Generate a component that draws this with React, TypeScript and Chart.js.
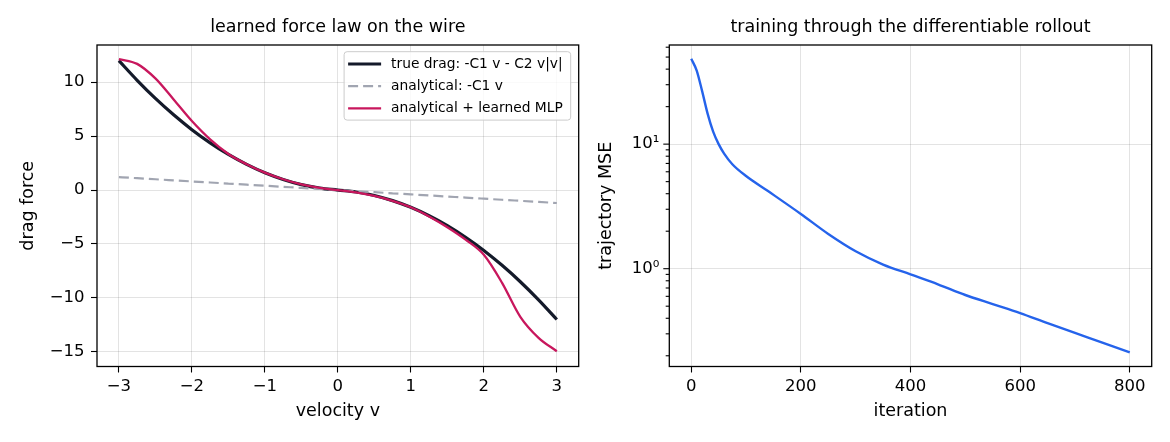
import React, { useEffect, useRef } from 'react';
import { Chart, registerables } from 'chart.js';

Chart.register(...registerables);

// ---------- data: left panel ----------
const VELOCITY = [-3, -2.75, -2.5, -2.25, -2, -1.75, -1.5, -1.25, -1, -0.75, -0.5, -0.25, 0, 0.25, 0.5, 0.75, 1, 1.25, 1.5, 1.75, 2, 2.25, 2.5, 2.75, 3];
const TRUE_DRAG = [12.0, 10.18, 8.5, 6.98, 5.6, 4.38, 3.3, 2.38, 1.6, 0.98, 0.5, 0.18, 0, -0.18, -0.5, -0.98, -1.6, -2.38, -3.3, -4.38, -5.6, -6.98, -8.5, -10.18, -12.0];
const ANALYTICAL = [1.2, 1.1, 1.0, 0.9, 0.8, 0.7, 0.6, 0.5, 0.4, 0.3, 0.2, 0.1, 0, -0.1, -0.2, -0.3, -0.4, -0.5, -0.6, -0.7, -0.8, -0.9, -1.0, -1.1, -1.2];
const LEARNED_MLP = [12.15, 11.7, 10.35, 8.4, 6.4, 4.7, 3.35, 2.4, 1.62, 1.0, 0.52, 0.2, 0.0, -0.22, -0.55, -1.0, -1.6, -2.45, -3.45, -4.6, -6.0, -8.6, -11.75, -13.7, -14.95];
const LEFT_X_TICKS = [-3, -2, -1, 0, 1, 2, 3];
const LEFT_Y_TICKS = [-15, -10, -5, 0, 5, 10];

// ---------- data: right panel ----------
const ITERATIONS = [0, 10, 20, 30, 40, 50, 60, 75, 100, 140, 200, 250, 300, 350, 400, 450, 500, 550, 600, 650, 700, 750, 800];
const MSE = [48.5, 39, 26.5, 17.5, 12.6, 10.0, 8.4, 6.9, 5.55, 4.2, 2.75, 1.9, 1.38, 1.08, 0.9, 0.75, 0.615, 0.52, 0.44, 0.365, 0.305, 0.255, 0.213];
const RIGHT_X_TICKS = [0, 200, 400, 600, 800];
const LOG_MAJOR = [1, 10];
const LOG_MINOR = [0.2, 0.3, 0.4, 0.5, 0.6, 0.7, 0.8, 0.9, 2, 3, 4, 5, 6, 7, 8, 9, 20, 30, 40, 50, 60];
const SUPERSCRIPT: Record<string, string> = { '-': '\u207B', '0': '\u2070', '1': '\u00B9', '2': '\u00B2', '3': '\u00B3' };

const FONT = 'DejaVu Sans';
const TICK_SIZE = 16.5;
const LABEL_SIZE = 17.5;
const TITLE_SIZE = 17.5;
const LEGEND_SIZE = 13.8;
const GRID = 'rgba(0,0,0,0.11)';

const fmt = (v: number) => (v < 0 ? '\u2212' + Math.abs(v) : String(v));
const fmtPow = (v: number) => '10' + String(Math.round(Math.log10(v))).split('').map((c) => SUPERSCRIPT[c] || c).join('');

const framePlugin = {
  id: 'frame',
  afterDraw(chart: any) {
    const { ctx, chartArea: a } = chart;
    ctx.save();
    ctx.strokeStyle = '#000';
    ctx.lineWidth = 1.3;
    ctx.strokeRect(a.left, a.top, a.right - a.left, a.bottom - a.top);
    ctx.restore();
  },
};

const innerLegendPlugin = {
  id: 'innerLegend',
  afterDraw(chart: any) {
    const { ctx, chartArea: a } = chart;
    const items = chart.data.datasets.map((ds: any) => ({
      label: ds.label,
      color: ds.borderColor,
      width: ds.borderWidth,
      dash: ds.borderDash || [],
    }));
    ctx.save();
    ctx.font = `${LEGEND_SIZE}px "${FONT}"`;
    const textW = Math.max(...items.map((i: any) => ctx.measureText(i.label).width));
    const handle = 33, padL = 4, gap = 10, padR = 8, rowH = 22.2, padT = 12.3, padB = 11.7;
    const w = padL + handle + gap + textW + padR;
    const h = padT + rowH * (items.length - 1) + padB;
    const x0 = a.right - 8 - w;
    const y0 = a.top + 6.7;
    ctx.beginPath();
    ctx.roundRect(x0, y0, w, h, 3);
    ctx.fillStyle = 'rgba(255,255,255,0.8)';
    ctx.fill();
    ctx.strokeStyle = '#cccccc';
    ctx.lineWidth = 1;
    ctx.stroke();
    items.forEach((it: any, i: number) => {
      const cy = y0 + padT + i * rowH;
      ctx.beginPath();
      ctx.setLineDash(it.dash);
      ctx.strokeStyle = it.color;
      ctx.lineWidth = it.width;
      ctx.moveTo(x0 + padL, cy);
      ctx.lineTo(x0 + padL + handle, cy);
      ctx.stroke();
      ctx.setLineDash([]);
      ctx.fillStyle = '#000';
      ctx.textBaseline = 'middle';
      ctx.textAlign = 'left';
      ctx.fillText(it.label, x0 + padL + handle + gap, cy + 0.5);
    });
    ctx.restore();
  },
};

const logTickPlugin = {
  id: 'logTicks',
  afterDraw(chart: any) {
    const { ctx, chartArea: a } = chart;
    const y = chart.scales.y;
    ctx.save();
    ctx.strokeStyle = '#000';
    ctx.lineWidth = 1.1;
    const draw = (v: number, len: number) => {
      const p = y.getPixelForValue(v);
      ctx.beginPath();
      ctx.moveTo(a.left - len, p);
      ctx.lineTo(a.left, p);
      ctx.stroke();
    };
    LOG_MINOR.forEach((v) => draw(v, 3.6));
    LOG_MAJOR.forEach((v) => draw(v, 6));
    ctx.restore();
  },
};

const tickFont = { family: FONT, size: TICK_SIZE };
const labelFont = { family: FONT, size: LABEL_SIZE };

function titleOpts(text: string) {
  return {
    display: true,
    text,
    fullSize: false,
    color: '#000',
    font: { family: FONT, size: TITLE_SIZE, weight: 'normal' as const },
    padding: { top: 16.5, bottom: 7.5 },
  };
}

function xAxis(min: number, max: number, ticks: number[], label: string) {
  return {
    type: 'linear' as const,
    min,
    max,
    border: { display: false },
    grid: { color: GRID, lineWidth: 1, tickColor: '#000', tickLength: 6, tickWidth: 1.1 },
    ticks: { font: tickFont, color: '#000', padding: 4.3, maxRotation: 0, autoSkip: false, callback: (v: any) => fmt(Number(v)) },
    title: { display: true, text: label, color: '#000', font: labelFont, padding: { top: 4, bottom: 19.8 } },
    afterBuildTicks: (s: any) => { s.ticks = ticks.map((value) => ({ value })); },
    afterFit: (s: any) => { s.height = 75.5; },
  };
}

function leftConfig(): any {
  return {
    type: 'line',
    data: {
      datasets: [
        { label: 'true drag: -C1 v - C2 v|v|', data: VELOCITY.map((x, i) => ({ x, y: TRUE_DRAG[i] })), borderColor: '#141a2a', borderWidth: 3.2, order: 2 },
        { label: 'analytical: -C1 v', data: VELOCITY.map((x, i) => ({ x, y: ANALYTICAL[i] })), borderColor: '#a1a5b1', borderWidth: 2.2, borderDash: [10, 5], order: 1 },
        { label: 'analytical + learned MLP', data: VELOCITY.map((x, i) => ({ x, y: LEARNED_MLP[i] })), borderColor: '#c8175d', borderWidth: 2.3, order: 0 },
      ],
    },
    options: {
      responsive: false,
      animation: false,
      devicePixelRatio: 1,
      layout: { padding: { left: 0, right: 6.3, top: 0, bottom: 0 } },
      elements: { point: { radius: 0 }, line: { cubicInterpolationMode: 'monotone', fill: false } },
      plugins: { legend: { display: false }, tooltip: { enabled: false }, title: titleOpts('learned force law on the wire') },
      scales: {
        x: xAxis(-3.3, 3.3, LEFT_X_TICKS, 'velocity v'),
        y: {
          type: 'linear',
          min: -16.36,
          max: 13.45,
          border: { display: false },
          grid: { color: GRID, lineWidth: 1, tickColor: '#000', tickLength: 6, tickWidth: 1.1 },
          ticks: { font: tickFont, color: '#000', padding: 6.5, autoSkip: false, callback: (v: any) => fmt(Number(v)) },
          title: { display: true, text: 'drag force', color: '#000', font: labelFont, padding: { top: 17.8, bottom: 4 } },
          afterBuildTicks: (s: any) => { s.ticks = LEFT_Y_TICKS.map((value) => ({ value })); },
          afterFit: (s: any) => { s.width = 97; },
        },
      },
    },
    plugins: [framePlugin, innerLegendPlugin],
  };
}

function rightConfig(): any {
  return {
    type: 'line',
    data: {
      datasets: [
        { label: 'trajectory MSE', data: ITERATIONS.map((x, i) => ({ x, y: MSE[i] })), borderColor: '#2563eb', borderWidth: 2.4 },
      ],
    },
    options: {
      responsive: false,
      animation: false,
      devicePixelRatio: 1,
      layout: { padding: { left: 0, right: 18.3, top: 0, bottom: 0 } },
      elements: { point: { radius: 0 }, line: { cubicInterpolationMode: 'monotone', fill: false } },
      plugins: { legend: { display: false }, tooltip: { enabled: false }, title: titleOpts('training through the differentiable rollout') },
      scales: {
        x: xAxis(-40, 840, RIGHT_X_TICKS, 'iteration'),
        y: {
          type: 'logarithmic',
          min: 0.164,
          max: 62.5,
          border: { display: false },
          grid: { color: GRID, lineWidth: 1, drawTicks: false },
          ticks: { font: tickFont, color: '#000', padding: 10, autoSkip: false, callback: (v: any) => fmtPow(Number(v)) },
          title: { display: true, text: 'trajectory MSE', color: '#000', font: labelFont, padding: { top: 11.2, bottom: 4 } },
          afterBuildTicks: (s: any) => { s.ticks = LOG_MAJOR.map((value) => ({ value, major: true })); },
          afterFit: (s: any) => { s.width = 84.3; },
        },
      },
    },
    plugins: [framePlugin, logTickPlugin],
  };
}

export default function App() {
  const leftRef = useRef<HTMLCanvasElement>(null);
  const rightRef = useRef<HTMLCanvasElement>(null);
  useEffect(() => {
    const c1 = new Chart(leftRef.current as HTMLCanvasElement, leftConfig());
    const c2 = new Chart(rightRef.current as HTMLCanvasElement, rightConfig());
    return () => {
      c1.destroy();
      c2.destroy();
    };
  }, []);
  return (
    <div style={{ position: 'absolute', left: 0, top: 0, width: 1170, height: 442, background: '#fff' }}>
      <canvas ref={leftRef} width={585} height={442} style={{ position: 'absolute', left: 0, top: 0, width: 585, height: 442 }} />
      <canvas ref={rightRef} width={585} height={442} style={{ position: 'absolute', left: 585, top: 0, width: 585, height: 442 }} />
    </div>
  );
}
